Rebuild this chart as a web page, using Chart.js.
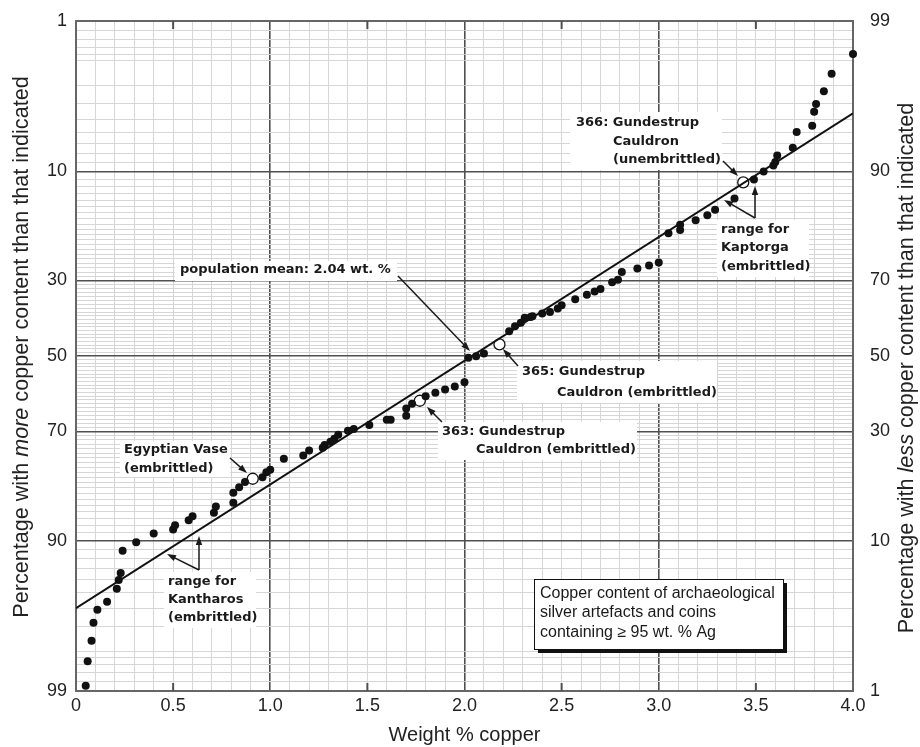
<!DOCTYPE html>
<html>
<head>
<meta charset="utf-8">
<script src="https://cdn.jsdelivr.net/npm/chart.js@4.4.1/dist/chart.umd.min.js"></script>
<style>
  html, body { margin: 0; padding: 0; background: #fff; }
  canvas { display: block; }
</style>
</head>
<body>
<canvas id="chart" width="920" height="747"></canvas>
<script>
// weight % copper of each artefact (filled dots)
const copperPct = [0.05, 0.06, 0.08, 0.09, 0.11, 0.16, 0.21, 0.22, 0.23, 0.24, 0.31, 0.40, 0.50, 0.51, 0.58, 0.60,
  0.71, 0.72, 0.81, 0.81, 0.84, 0.87, 0.96, 0.98, 1.00, 1.07, 1.17, 1.20, 1.27, 1.28, 1.31, 1.33, 1.35, 1.40,
  1.43, 1.51, 1.60, 1.62, 1.70, 1.70, 1.73, 1.80, 1.85, 1.90, 1.95, 2.00, 2.02, 2.06, 2.10, 2.23, 2.26, 2.29,
  2.31, 2.34, 2.35, 2.40, 2.44, 2.48, 2.50, 2.57, 2.63, 2.67, 2.70, 2.76, 2.79, 2.81, 2.89, 2.95, 3.00, 3.05,
  3.11, 3.11, 3.19, 3.25, 3.29, 3.39, 3.49, 3.54, 3.59, 3.60, 3.61, 3.69, 3.71, 3.79, 3.80, 3.81, 3.85, 3.89, 4.00];
// percentage with more copper than that indicated
const morePct = [98.9, 98.3, 97.6, 96.8, 96.1, 95.6, 94.7, 94.0, 93.4, 91.2, 90.2, 89.1, 88.6, 88.0, 87.3, 86.7,
  86.2, 85.2, 84.6, 82.9, 81.9, 80.9, 80.0, 79.0, 78.5, 76.2, 75.5, 74.4, 73.8, 73.2, 72.4, 71.7, 70.8, 69.8,
  69.4, 68.4, 67.1, 67.1, 66.1, 64.2, 63.0, 61.0, 60.1, 59.2, 58.4, 57.2, 50.5, 50.1, 49.3, 43.2, 41.8, 40.9,
  39.5, 39.3, 39.1, 38.4, 38.0, 37.1, 36.2, 34.7, 33.5, 32.7, 32.1, 30.4, 29.8, 28.0, 27.2, 26.5, 25.8, 19.7,
  19.1, 18.1, 17.3, 16.4, 15.5, 13.7, 11.0, 10.0, 9.3, 8.9, 8.2, 7.4, 6.0, 5.5, 4.5, 4.0, 3.3, 2.5, 1.8];

// named objects (open circles): Egyptian Vase, 363, 365, 366
const markedCopper = [0.91, 1.77, 2.18, 3.435];
const markedMore = [80.3, 62.2, 46.8, 11.4];

// fitted normal distribution, mean 2.04 wt. %
const fitCopper = [0, 4.0];
const fitMore = [96.0, 4.6];

const yMajor = [1, 10, 30, 50, 70, 90, 99];
const xLabels = ['0', '0.5', '1.0', '1.5', '2.0', '2.5', '3.0', '3.5', '4.0'];

// minor grid of the probability paper
const yGrid = [1, 1.2, 1.4, 1.6, 1.8, 2, 3, 4, 5, 6, 7, 8, 9];
for (let p = 10; p <= 90; p++) yGrid.push(p);
yGrid.push(91, 92, 93, 94, 95, 96, 97, 98, 98.2, 98.4, 98.6, 98.8, 99);
const xGrid = [];
for (let i = 0; i <= 40; i++) xGrid.push(i / 10);

// inverse normal cdf (Acklam)
function probit(pct) {
  const p = pct / 100;
  const a = [-3.969683028665376e+01, 2.209460984245205e+02, -2.759285104469687e+02, 1.383577518672690e+02, -3.066479806614716e+01, 2.506628277459239e+00];
  const b = [-5.447609879822406e+01, 1.615858368580409e+02, -1.556989798598866e+02, 6.680131188771972e+01, -1.328068155288572e+01];
  const c = [-7.784894002430293e-03, -3.223964580411365e-01, -2.400758277161838e+00, -2.549671348620839e+00, 4.374664141464968e+00, 2.938163982698783e+00];
  const d = [7.784695709041462e-03, 3.224671290700398e-01, 2.445134137142996e+00, 3.754408661907416e+00];
  const lo = 0.02425;
  let q, r;
  if (p < lo) {
    q = Math.sqrt(-2 * Math.log(p));
    return (((((c[0]*q+c[1])*q+c[2])*q+c[3])*q+c[4])*q+c[5]) / ((((d[0]*q+d[1])*q+d[2])*q+d[3])*q+1);
  }
  if (p > 1 - lo) {
    q = Math.sqrt(-2 * Math.log(1 - p));
    return -(((((c[0]*q+c[1])*q+c[2])*q+c[3])*q+c[4])*q+c[5]) / ((((d[0]*q+d[1])*q+d[2])*q+d[3])*q+1);
  }
  q = p - 0.5; r = q * q;
  return (((((a[0]*r+a[1])*r+a[2])*r+a[3])*r+a[4])*r+a[5])*q / (((((b[0]*r+b[1])*r+b[2])*r+b[3])*r+b[4])*r+1);
}

const pts = (xs, ys) => xs.map((x, i) => ({ x: x, y: probit(ys[i]) }));

const MAJOR = '#505050', MINOR = '#d6d6d6';
const LABEL_FONT = "'Liberation Sans', Arial, sans-serif";
const NOTE_FONT = "bold 13px 'DejaVu Sans', Verdana, sans-serif";

// text notes, arrows and white masks
const notes = [
  { box: [175, 261, 222, 20], lines: [[180, 270, 'population mean: 2.04 wt. %']] },
  { box: [570, 112, 152, 58], lines: [[576, 123, '366: Gundestrup'], [613, 142, 'Cauldron'], [613, 160, '(unembrittled)']] },
  { box: [717, 220, 92, 57], lines: [[721, 230, 'range for'], [721, 248, 'Kaptorga'], [721, 267, '(embrittled)']] },
  { box: [517, 361, 200, 42], lines: [[522, 372, '365: Gundestrup'], [557, 393, 'Cauldron (embrittled)']] },
  { box: [438, 422, 199, 38], lines: [[442, 432, '363: Gundestrup'], [476, 450, 'Cauldron (embrittled)']] },
  { box: [120, 441, 110, 36], lines: [[124, 450, 'Egyptian Vase'], [124, 469, '(embrittled)']] },
  { box: [164, 572, 92, 56], lines: [[168, 582, 'range for'], [168, 600, 'Kantharos'], [168, 618, '(embrittled)']] }
];
const arrows = [
  [398, 276, 470, 351],
  [723, 161, 738, 176],
  [755, 218, 724, 200], [755, 218, 755, 186],
  [518, 366, 503, 349],
  [442, 422, 427, 407],
  [230, 458, 247, 473],
  [199, 570, 167, 554], [199, 570, 199, 536]
];
const infoBox = { rect: [534, 579, 249, 70], x: 540, lines: [[594, 'Copper content of archaeological'], [613, 'silver artefacts and coins'], [633, 'containing \u2265 95 wt. % Ag']] };

function arrow(ctx, x1, y1, x2, y2) {
  const ang = Math.atan2(y2 - y1, x2 - x1), len = 9, w = 3.2;
  ctx.beginPath();
  ctx.moveTo(x1, y1);
  ctx.lineTo(x2 - Math.cos(ang) * len * 0.7, y2 - Math.sin(ang) * len * 0.7);
  ctx.stroke();
  ctx.beginPath();
  ctx.moveTo(x2, y2);
  ctx.lineTo(x2 - Math.cos(ang) * len + Math.sin(ang) * w, y2 - Math.sin(ang) * len - Math.cos(ang) * w);
  ctx.lineTo(x2 - Math.cos(ang) * len - Math.sin(ang) * w, y2 - Math.sin(ang) * len + Math.cos(ang) * w);
  ctx.closePath();
  ctx.fill();
}

function titleRotated(ctx, cx, cy, parts) {
  ctx.save();
  ctx.translate(cx, cy);
  ctx.rotate(-Math.PI / 2);
  ctx.textBaseline = 'middle';
  ctx.textAlign = 'left';
  ctx.fillStyle = '#222';
  let total = 0;
  parts.forEach(p => { ctx.font = (p[1] ? 'italic ' : '') + '21.6px ' + LABEL_FONT; total += ctx.measureText(p[0]).width; });
  let x = -total / 2;
  parts.forEach(p => {
    ctx.font = (p[1] ? 'italic ' : '') + '21.6px ' + LABEL_FONT;
    ctx.fillText(p[0], x, 0);
    x += ctx.measureText(p[0]).width;
  });
  ctx.restore();
}

const decor = {
  id: 'decor',
  beforeDatasetsDraw(chart) {
    const ctx = chart.ctx, a = chart.chartArea, xs = chart.scales.x;
    ctx.save();
    // frame
    ctx.strokeStyle = '#666';
    ctx.lineWidth = 2;
    ctx.strokeRect(a.left, a.top, a.right - a.left, a.bottom - a.top);
    // inner ticks at the half units
    ctx.strokeStyle = MAJOR;
    [0.5, 1.5, 2.5, 3.5].forEach(v => {
      const x = xs.getPixelForValue(v);
      ctx.beginPath();
      ctx.moveTo(x, a.top); ctx.lineTo(x, a.top + 8);
      ctx.moveTo(x, a.bottom); ctx.lineTo(x, a.bottom - 8);
      ctx.stroke();
    });
    // white masks behind the notes
    ctx.fillStyle = '#fff';
    notes.forEach(n => ctx.fillRect(n.box[0], n.box[1], n.box[2], n.box[3]));
    // info box with shadow
    const r = infoBox.rect;
    ctx.fillStyle = '#111';
    ctx.fillRect(r[0] + 4, r[1] + 4, r[2], r[3]);
    ctx.fillStyle = '#fff';
    ctx.fillRect(r[0], r[1], r[2], r[3]);
    ctx.strokeStyle = '#111';
    ctx.lineWidth = 1;
    ctx.strokeRect(r[0] + 0.5, r[1] + 0.5, r[2], r[3]);
    ctx.fillStyle = '#1a1a1a';
    ctx.font = '16px ' + LABEL_FONT;
    ctx.textBaseline = 'middle';
    infoBox.lines.forEach(l => ctx.fillText(l[1], infoBox.x, l[0]));
    ctx.restore();
  },
  afterDatasetsDraw(chart) {
    const ctx = chart.ctx;
    ctx.save();
    ctx.fillStyle = '#1a1a1a';
    ctx.strokeStyle = '#1a1a1a';
    ctx.lineWidth = 1.5;
    ctx.font = NOTE_FONT;
    ctx.textBaseline = 'middle';
    notes.forEach(n => n.lines.forEach(l => ctx.fillText(l[2], l[0], l[1])));
    arrows.forEach(s => arrow(ctx, s[0], s[1], s[2], s[3]));
    ctx.restore();
    titleRotated(ctx, 22, 347, [['Percentage with ', false], ['more', true], [' copper content than that indicated', false]]);
    titleRotated(ctx, 907, 368, [['Percentage with ', false], ['less', true], [' copper content than that indicated', false]]);
  }
};

Chart.defaults.font.family = LABEL_FONT;

new Chart(document.getElementById('chart'), {
  type: 'scatter',
  data: {
    datasets: [
      {
        type: 'line',
        label: 'fit',
        data: pts(fitCopper, fitMore),
        borderColor: '#111',
        borderWidth: 2,
        pointRadius: 0,
        fill: false
      },
      {
        label: 'artefacts',
        data: pts(copperPct, morePct),
        pointRadius: 4,
        backgroundColor: '#111',
        borderColor: '#111',
        borderWidth: 0,
        clip: false
      },
      {
        label: 'named',
        data: pts(markedCopper, markedMore),
        pointRadius: 5.5,
        backgroundColor: '#fff',
        borderColor: '#111',
        borderWidth: 1.3,
        clip: false
      }
    ]
  },
  options: {
    responsive: false,
    animation: false,
    devicePixelRatio: 1,
    layout: { padding: { top: 21, left: 0, right: 0, bottom: 0 } },
    plugins: { legend: { display: false }, tooltip: { enabled: false } },
    scales: {
      x: {
        type: 'linear',
        min: 0,
        max: 4,
        afterBuildTicks: s => { s.ticks = xGrid.map(v => ({ value: v })); },
        afterFit: s => { s.height = 56; },
        ticks: {
          autoSkip: false,
          maxRotation: 0,
          padding: 4,
          color: '#222',
          font: { size: 18 },
          callback: (v, i) => (i % 5 === 0 ? xLabels[i / 5] : '')
        },
        grid: {
          drawTicks: false,
          color: c => (c.index % 10 === 0 ? MAJOR : MINOR),
          lineWidth: c => (c.index % 10 === 0 ? 1.6 : 1)
        },
        border: { display: false },
        title: { display: true, text: 'Weight % copper', color: '#222', font: { size: 20 }, padding: { top: 0, bottom: 0 } }
      },
      y: {
        type: 'linear',
        position: 'left',
        reverse: true,
        min: probit(1),
        max: probit(99),
        afterBuildTicks: s => { s.ticks = yGrid.map(p => ({ value: probit(p) })); },
        afterFit: s => { s.width = 76; },
        ticks: {
          autoSkip: false,
          padding: 9,
          color: '#222',
          font: { size: 18 },
          callback: (v, i) => (yMajor.includes(yGrid[i]) ? String(yGrid[i]) : '')
        },
        grid: {
          drawTicks: false,
          color: c => (yMajor.includes(yGrid[c.index]) ? MAJOR : MINOR),
          lineWidth: c => (yMajor.includes(yGrid[c.index]) ? 1.6 : 1)
        },
        border: { display: false }
      },
      y2: {
        type: 'linear',
        position: 'right',
        reverse: true,
        min: probit(1),
        max: probit(99),
        afterBuildTicks: s => { s.ticks = yMajor.map(p => ({ value: probit(p) })); },
        afterFit: s => { s.width = 67; },
        ticks: {
          autoSkip: false,
          padding: 9,
          color: '#222',
          font: { size: 18 },
          callback: (v, i) => String(100 - yMajor[i])
        },
        grid: { display: false },
        border: { display: false }
      }
    }
  },
  plugins: [decor]
});
</script>
</body>
</html>
